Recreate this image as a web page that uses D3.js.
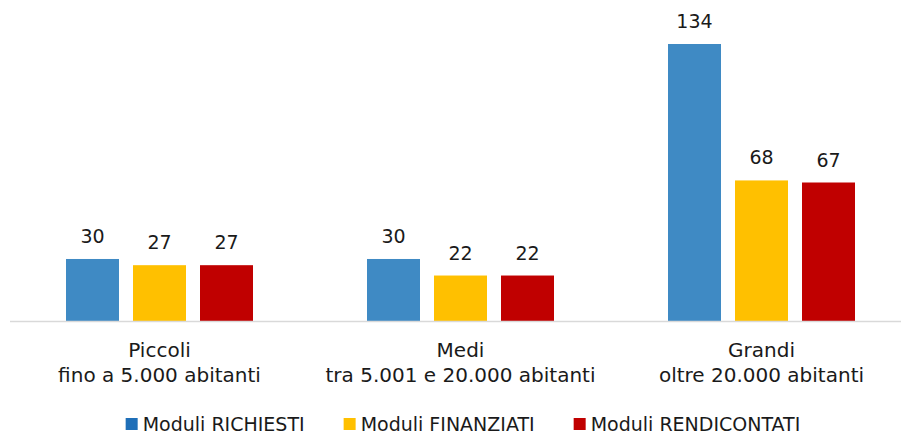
<!DOCTYPE html>
<html>
<head>
<meta charset="utf-8">
<script src="https://cdn.jsdelivr.net/npm/d3@7"></script>
<style>
  body { margin: 0; background: #fff; }
  text { font-family: "Century Gothic", "DejaVu Sans", sans-serif; fill: #1a1a1a; }
</style>
</head>
<body>
<div id="chart"></div>
<script>
// categories (two-line labels)
var categories = ["Piccoli", "Medi", "Grandi"];
var categorySub = ["fino a 5.000 abitanti", "tra 5.001 e 20.000 abitanti", "oltre 20.000 abitanti"];

// series
var seriesNames = ["Moduli RICHIESTI", "Moduli FINANZIATI", "Moduli RENDICONTATI"];
var richiesti = [30, 30, 134];
var finanziati = [27, 22, 68];
var rendicontati = [27, 22, 67];

var barColors = ["#3f8ac4", "#ffc000", "#c00000"];
var legendColors = ["#1f6fb8", "#ffc000", "#c00000"];

var seriesValues = [richiesti, finanziati, rendicontati];

var svg = d3.select("#chart").append("svg").attr("width", 901).attr("height", 438);

// outer band scale: categories, step of 301px
var step = 301;
var x0 = d3.scaleBand()
    .domain(categories)
    .range([9, 9 + step * 3])
    .paddingInner(114 / step)
    .paddingOuter(57 / step);

// inner band scale: series within a category
var x1 = d3.scaleBand()
    .domain(seriesNames)
    .range([0, x0.bandwidth()])
    .paddingInner(0.209);

var y = d3.scaleLinear()
    .domain([0, 134])
    .range([321, 44]);

// bars
var groups = svg.selectAll("g.group")
    .data(categories)
    .enter().append("g")
    .attr("class", "group")
    .attr("transform", d => "translate(" + x0(d) + ",0)");

groups.selectAll("rect")
    .data((d, i) => seriesNames.map((s, j) => ({ s: s, v: seriesValues[j][i], j: j })))
    .enter().append("rect")
    .attr("x", d => x1(d.s))
    .attr("y", d => y(d.v))
    .attr("width", x1.bandwidth())
    .attr("height", d => y(0) - y(d.v))
    .attr("fill", d => barColors[d.j]);

// value labels
groups.selectAll("text.val")
    .data((d, i) => seriesNames.map((s, j) => ({ s: s, v: seriesValues[j][i] })))
    .enter().append("text")
    .attr("class", "val")
    .attr("x", d => x1(d.s) + x1.bandwidth() / 2)
    .attr("y", d => y(d.v) - 16)
    .attr("text-anchor", "middle")
    .style("font-size", "19px")
    .text(d => d.v);

// x axis line
var axis = svg.append("g")
    .attr("transform", "translate(0," + y(0) + ")")
    .call(d3.axisBottom(x0).tickSize(0).tickFormat(""));
axis.select(".domain").attr("stroke", "#d9d9d9").attr("stroke-width", 1.5).attr("d", "M10,0.5H901");

// category labels
var catLabels = svg.selectAll("text.cat")
    .data(categories)
    .enter().append("text")
    .attr("class", "cat")
    .attr("text-anchor", "middle")
    .style("font-size", "20px")
    .attr("x", d => x0(d) + x0.bandwidth() / 2)
    .attr("y", 357);
catLabels.append("tspan").text(d => d);
catLabels.append("tspan")
    .attr("x", d => x0(d) + x0.bandwidth() / 2)
    .attr("dy", 25)
    .text((d, i) => categorySub[i]);

// legend
var legend = svg.append("g");
var items = legend.selectAll("g")
    .data(seriesNames)
    .enter().append("g");
items.append("rect")
    .attr("width", 12).attr("height", 12)
    .attr("y", 418)
    .attr("fill", (d, i) => legendColors[i]);
items.append("text")
    .attr("x", 17)
    .attr("y", 431)
    .style("font-size", "19px")
    .text(d => d);

var offs = 0, widths = [];
items.each(function () { widths.push(this.getBBox().width); });
var total = d3.sum(widths) + 39 * (widths.length - 1);
offs = 463 - total / 2;
items.attr("transform", function (d, i) {
    var t = "translate(" + offs + ",0)";
    offs += widths[i] + 39;
    return t;
});
</script>
</body>
</html>
